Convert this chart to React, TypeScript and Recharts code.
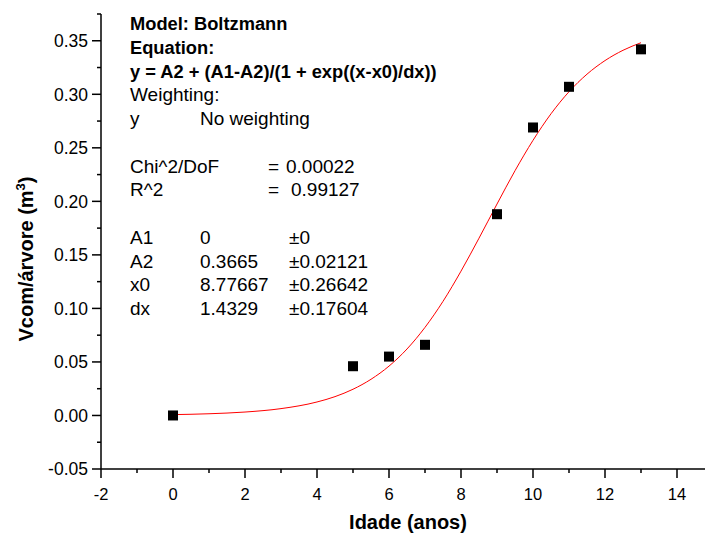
import React from "react";
import { ComposedChart, Line, Scatter, XAxis, YAxis } from "recharts";

// Measured data (Idade in years, Vcom/árvore in m³)
const ages = [0, 5, 6, 7, 9, 10, 11, 13];
const volumes = [0.0, 0.046, 0.055, 0.066, 0.188, 0.269, 0.307, 0.342];

// Fitted curve
const curveX = [0, 1, 2, 3, 4, 4.5, 5, 5.5, 6, 6.5, 7, 7.5, 8, 8.5, 9, 9.5, 10, 10.5, 11, 11.5, 12, 12.5, 13];
const curveY = [0.0008, 0.0016, 0.0032, 0.0064, 0.0126, 0.0176, 0.0245, 0.0338, 0.0461, 0.0621, 0.0823, 0.1066, 0.1348, 0.1656, 0.1975, 0.2286, 0.257, 0.2818, 0.3024, 0.3188, 0.3315, 0.3411, 0.3482];

const xTicks = [-2, -1, 0, 1, 2, 3, 4, 5, 6, 7, 8, 9, 10, 11, 12, 13, 14, 15];
const yTicks = [-0.05, -0.025, 0, 0.025, 0.05, 0.075, 0.1, 0.125, 0.15, 0.175, 0.2, 0.225, 0.25, 0.275, 0.3, 0.325, 0.35, 0.375];

const fitHeader = ["Model: Boltzmann", "Equation:", "y = A2 + (A1-A2)/(1 + exp((x-x0)/dx))"];
const paramNames = ["A1", "A2", "x0", "dx"];
const paramValues = ["0", "0.3665", "8.77667", "1.4329"];
const paramErrors = ["±0", "±0.02121", "±0.26642", "±0.17604"];

const FONT = "'Liberation Sans', Arial, Helvetica, sans-serif";

const scatterData = ages.map((a, i) => ({ x: a, y: volumes[i] }));
const curveData = curveX.map((a, i) => ({ x: a, y: curveY[i] }));

const isMajorY = (v: number) => Math.abs(v * 20 - Math.round(v * 20)) < 1e-6;
const isMajorX = (v: number) => Math.abs(v / 2 - Math.round(v / 2)) < 1e-6;

const YTick = (props: any) => {
  const { x, y, payload } = props;
  const v = payload.value as number;
  const major = isMajorY(v);
  const ax = x + 13;
  return (
    <g>
      <line x1={ax} x2={ax - (major ? 9 : 4)} y1={y} y2={y} stroke="#000" strokeWidth={1.5} />
      {major && (
        <text x={x} y={y} dy="0.36em" textAnchor="end" fontFamily={FONT} fontSize={17.5} fill="#000">
          {v.toFixed(2)}
        </text>
      )}
    </g>
  );
};

const XTick = (props: any) => {
  const { x, y, payload } = props;
  const v = payload.value as number;
  const major = isMajorX(v);
  const ay = y - 19;
  return (
    <g>
      <line x1={x} x2={x} y1={ay} y2={ay + (major ? 9 : 4)} stroke="#000" strokeWidth={1.5} />
      {major && (
        <text x={x} y={y} dy="0.71em" textAnchor="middle" fontFamily={FONT} fontSize={16.5} fill="#000">
          {String(v)}
        </text>
      )}
    </g>
  );
};

const SquareDot = (props: any) => {
  const { cx, cy } = props;
  return <rect x={cx - 5} y={cy - 5} width={10} height={10} fill="#000" />;
};

export default function App() {
  const lh = 23.75;
  const base = 30;
  const line = (i: number) => base + i * lh;
  const fs = 19;
  const bfs = 18.3;
  return (
    <div style={{ position: "absolute", left: 0, top: 0, width: 705, height: 535, overflow: "hidden", background: "#fff" }}>
      <ComposedChart width={720} height={535} margin={{ top: 14, right: 7, bottom: 0, left: 0 }}>
        <XAxis
          type="number"
          dataKey="x"
          domain={[-2, 15]}
          ticks={xTicks}
          interval={0}
          allowDataOverflow
          height={66}
          tickSize={9}
          tickMargin={10}
          tickLine={false}
          tick={<XTick />}
          axisLine={{ stroke: "#000", strokeWidth: 1.5 }}
        />
        <YAxis
          type="number"
          dataKey="y"
          domain={[-0.05, 0.375]}
          ticks={yTicks}
          interval={0}
          allowDataOverflow
          width={101}
          tickSize={9}
          tickMargin={4}
          tickLine={false}
          tick={<YTick />}
          axisLine={{ stroke: "#000", strokeWidth: 1.5 }}
        />
        <Line
          data={curveData}
          dataKey="y"
          type="monotone"
          stroke="#ff0000"
          strokeWidth={1}
          dot={false}
          activeDot={false}
          isAnimationActive={false}
        />
        <Scatter data={scatterData} dataKey="y" fill="#000" shape={<SquareDot />} isAnimationActive={false} />
      </ComposedChart>
      <svg
        width={705}
        height={535}
        style={{ position: "absolute", left: 0, top: 0, pointerEvents: "none" }}
        fontFamily={FONT}
      >
        <text x={130} y={line(0)} fontSize={bfs} fontWeight="bold">{fitHeader[0]}</text>
        <text x={130} y={line(1)} fontSize={bfs} fontWeight="bold">{fitHeader[1]}</text>
        <text x={130} y={line(2)} fontSize={bfs} fontWeight="bold">{fitHeader[2]}</text>
        <text x={130} y={line(3)} fontSize={fs}>Weighting:</text>
        <text x={130} y={line(4)} fontSize={fs}>y</text>
        <text x={200} y={line(4)} fontSize={fs}>No weighting</text>
        <text x={130} y={line(6)} fontSize={fs}>Chi^2/DoF</text>
        <text x={268} y={line(6)} fontSize={fs}>=</text>
        <text x={286} y={line(6)} fontSize={fs}>0.00022</text>
        <text x={130} y={line(7)} fontSize={fs}>R^2</text>
        <text x={268} y={line(7)} fontSize={fs}>=</text>
        <text x={291} y={line(7)} fontSize={fs}>0.99127</text>
        {paramNames.map((n, i) => (
          <g key={n}>
            <text x={130} y={line(9 + i)} fontSize={fs}>{n}</text>
            <text x={200} y={line(9 + i)} fontSize={fs}>{paramValues[i]}</text>
            <text x={289} y={line(9 + i)} fontSize={fs}>{paramErrors[i]}</text>
          </g>
        ))}
        <text x={408} y={529} fontSize={20} fontWeight="bold" textAnchor="middle">Idade (anos)</text>
        <text
          transform="translate(33, 259) rotate(-90)"
          fontSize={20}
          fontWeight="bold"
          textAnchor="middle"
        >
          Vcom/árvore (m<tspan dy={-8} fontSize={13}>3</tspan><tspan dy={8}>)</tspan>
        </text>
      </svg>
    </div>
  );
}
